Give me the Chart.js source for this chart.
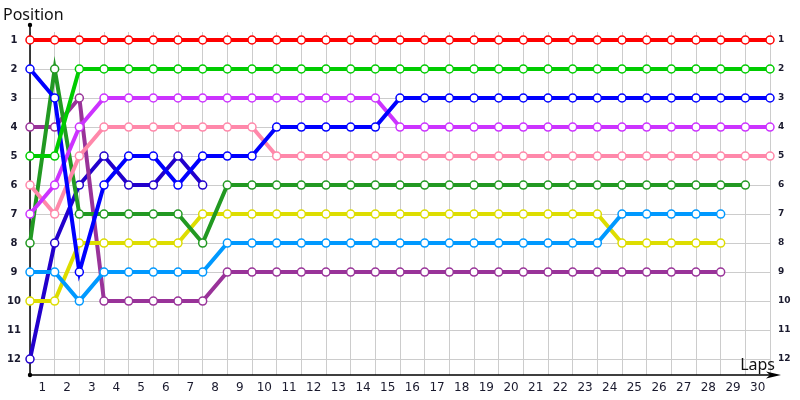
<!DOCTYPE html>
<html>
<head>
<meta charset="utf-8">
<title>Lap chart</title>
<script src="https://cdn.jsdelivr.net/npm/chart.js@4.4.1/dist/chart.umd.min.js"></script>
<style>
  html, body { margin: 0; padding: 0; background: #ffffff; }
  #lapChart { display: block; }
</style>
</head>
<body>
<canvas id="lapChart" width="800" height="400"></canvas>
<script>
// laps 0 (start) .. 30
const laps = [0, 1, 2, 3, 4, 5, 6, 7, 8, 9, 10, 11, 12, 13, 14, 15, 16, 17, 18, 19, 20, 21, 22, 23, 24, 25, 26, 27, 28, 29, 30];
const positions = [1, 2, 3, 4, 5, 6, 7, 8, 9, 10, 11, 12];

// position of each car per lap, null once retired / not finished
const redCar = [1, 1, 1, 1, 1, 1, 1, 1, 1, 1, 1, 1, 1, 1, 1, 1, 1, 1, 1, 1, 1, 1, 1, 1, 1, 1, 1, 1, 1, 1, 1];
const greenCar = [5, 5, 2, 2, 2, 2, 2, 2, 2, 2, 2, 2, 2, 2, 2, 2, 2, 2, 2, 2, 2, 2, 2, 2, 2, 2, 2, 2, 2, 2, 2];
const blueCar = [2, 3, 9, 6, 5, 5, 6, 5, 5, 5, 4, 4, 4, 4, 4, 3, 3, 3, 3, 3, 3, 3, 3, 3, 3, 3, 3, 3, 3, 3, 3];
const magentaCar = [7, 6, 4, 3, 3, 3, 3, 3, 3, 3, 3, 3, 3, 3, 3, 4, 4, 4, 4, 4, 4, 4, 4, 4, 4, 4, 4, 4, 4, 4, 4];
const pinkCar = [6, 7, 5, 4, 4, 4, 4, 4, 4, 4, 5, 5, 5, 5, 5, 5, 5, 5, 5, 5, 5, 5, 5, 5, 5, 5, 5, 5, 5, 5, 5];
const darkGreenCar = [8, 2, 7, 7, 7, 7, 7, 8, 6, 6, 6, 6, 6, 6, 6, 6, 6, 6, 6, 6, 6, 6, 6, 6, 6, 6, 6, 6, 6, 6, null];
const lightBlueCar = [9, 9, 10, 9, 9, 9, 9, 9, 8, 8, 8, 8, 8, 8, 8, 8, 8, 8, 8, 8, 8, 8, 8, 8, 7, 7, 7, 7, 7, null, null];
const yellowCar = [10, 10, 8, 8, 8, 8, 8, 7, 7, 7, 7, 7, 7, 7, 7, 7, 7, 7, 7, 7, 7, 7, 7, 7, 8, 8, 8, 8, 8, null, null];
const purpleCar = [4, 4, 3, 10, 10, 10, 10, 10, 9, 9, 9, 9, 9, 9, 9, 9, 9, 9, 9, 9, 9, 9, 9, 9, 9, 9, 9, 9, 9, null, null];
const indigoCar = [12, 8, 6, 5, 6, 6, 5, 6, null, null, null, null, null, null, null, null, null, null, null, null, null, null, null, null, null, null, null, null, null, null, null];

const cars = [
  { name: "red", data: redCar, color: "#ff0000" },
  { name: "green", data: greenCar, color: "#00cc00" },
  { name: "blue", data: blueCar, color: "#0000ff" },
  { name: "magenta", data: magentaCar, color: "#cc33ff" },
  { name: "pink", data: pinkCar, color: "#ff88aa" },
  { name: "darkGreen", data: darkGreenCar, color: "#229922" },
  { name: "lightBlue", data: lightBlueCar, color: "#0099ff" },
  { name: "yellow", data: yellowCar, color: "#dddd00" },
  { name: "purple", data: purpleCar, color: "#993399" },
  { name: "indigo", data: indigoCar, color: "#2200cc" }
];

const titleFont = "16px 'Noto Sans', sans-serif";

// black axes with the dot on top and the arrow on the right, under the lines
const axesPlugin = {
  id: "lapAxes",
  beforeDatasetsDraw(chart) {
    const { ctx, chartArea } = chart;
    const left = chartArea.left;
    const bottom = chartArea.bottom;
    ctx.save();
    ctx.strokeStyle = "#000000";
    ctx.fillStyle = "#000000";
    ctx.lineWidth = 1.5;
    ctx.beginPath();
    ctx.moveTo(left, 25);
    ctx.lineTo(left, bottom);
    ctx.lineTo(772, bottom);
    ctx.stroke();

    ctx.beginPath();
    ctx.moveTo(781, bottom);
    ctx.lineTo(766, bottom - 3.5);
    ctx.lineTo(770, bottom);
    ctx.lineTo(766, bottom + 3.5);
    ctx.closePath();
    ctx.fill();

    ctx.beginPath();
    ctx.arc(left, 25, 2.2, 0, Math.PI * 2);
    ctx.arc(left, bottom, 2.2, 0, Math.PI * 2);
    ctx.fill();
    ctx.restore();
  },
  afterDraw(chart) {
    const { ctx } = chart;
    ctx.save();
    ctx.fillStyle = "#111111";
    ctx.font = titleFont;
    ctx.textBaseline = "middle";
    ctx.textAlign = "left";
    ctx.fillText("Position", 3, 15);
    ctx.textAlign = "right";
    ctx.fillText("Laps", 775, 365);
    ctx.restore();
  }
};

function buildDatasets() {
  return cars.map((car) => ({
    label: car.name,
    data: car.data,
    borderColor: car.color,
    backgroundColor: car.color,
    borderWidth: 4,
    pointRadius: 4,
    pointBorderWidth: 1.5,
    pointBorderColor: car.color,
    pointBackgroundColor: "#ffffff",
    tension: 0,
    spanGaps: false,
    clip: false,
    yAxisID: "y"
  }));
}

function positionAxis(side, font, padding) {
  return {
    type: "linear",
    position: side,
    reverse: true,
    min: 0.724,
    max: 12.55,
    afterBuildTicks: (scale) => {
      scale.ticks = positions.map((value) => ({ value }));
    },
    afterFit: (scale) => {
      scale.width = 30;
    },
    border: { display: false },
    grid: {
      display: side === "left",
      color: "#cccccc",
      lineWidth: 1,
      drawTicks: false
    },
    ticks: {
      autoSkip: false,
      padding,
      crossAlign: side === "left" ? "center" : "near",
      color: "#1a1a2e",
      font
    }
  };
}

new Chart(document.getElementById("lapChart"), {
  type: "line",
  data: {
    labels: laps,
    datasets: buildDatasets()
  },
  options: {
    responsive: false,
    animation: false,
    layout: { padding: { top: 32, left: 0, right: 0, bottom: 0 } },
    plugins: {
      legend: { display: false },
      tooltip: { enabled: false }
    },
    scales: {
      x: {
        type: "linear",
        position: "bottom",
        min: 0,
        max: 30,
        afterBuildTicks: (scale) => {
          scale.ticks = laps.map((value) => ({ value }));
        },
        afterFit: (scale) => {
          scale.height = 25;
        },
        border: { display: false },
        grid: { color: "#cccccc", lineWidth: 1, drawTicks: false },
        ticks: {
          autoSkip: false,
          maxRotation: 0,
          padding: 6,
          labelOffset: -12.3,
          color: "#1a1a2e",
          font: { family: "'DejaVu Sans', sans-serif", size: 12 },
          callback: (value) => (value === 0 ? "" : value)
        }
      },
      y: positionAxis("left", { family: "'DejaVu Sans', sans-serif", size: 10, weight: "bold" }, 9),
      y2: positionAxis("right", { family: "'DejaVu Sans', sans-serif", size: 9, weight: "bold" }, 8)
    }
  },
  plugins: [axesPlugin]
});
</script>
</body>
</html>
